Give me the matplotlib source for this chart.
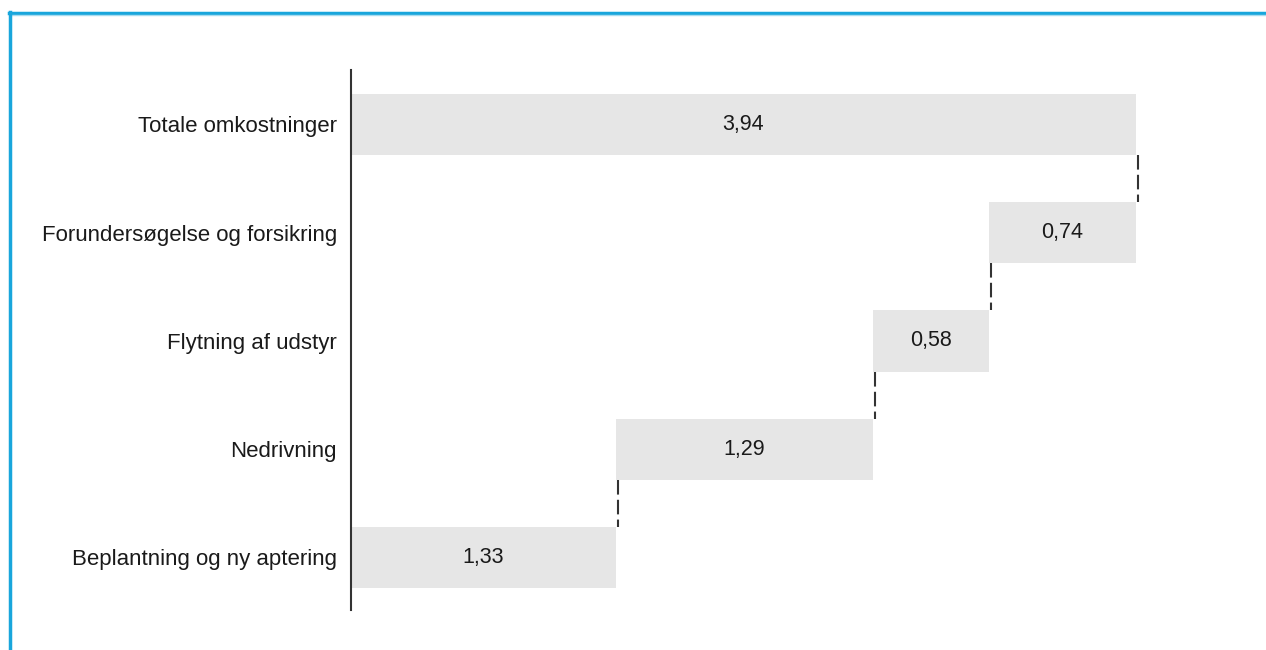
import matplotlib.pyplot as plt
from matplotlib.lines import Line2D

plt.rcParams['font.family'] = ['Liberation Sans', 'DejaVu Sans']

categories = [
    "Totale omkostninger",
    "Forundersøgelse og forsikring",
    "Flytning af udstyr",
    "Nedrivning",
    "Beplantning og ny aptering",
]
steps = [0.74, 0.58, 1.29, 1.33]  # components, top to bottom below the total
total = 3.94
labels = ["3,94", "0,74", "0,58", "1,29", "1,33"]

W, H = 1266, 650
fig = plt.figure(figsize=(W / 100, H / 100), dpi=100)

# axes span from the baseline to the end of the total bar
x0, x1 = 351, 1136
y_top, y_bot = 70, 610
ax = fig.add_axes([x0 / W, 1 - y_bot / H, (x1 - x0) / W, (y_bot - y_top) / H])

bar_color = "#e6e6e6"
height = 0.564

# waterfall: components stack from the bottom upward, total spans everything
lefts = [0.0]
widths = [total]
cum = total
for v in steps:
    cum -= v
    lefts.append(cum)
    widths.append(v)

ypos = list(range(len(categories)))
ax.barh(ypos, widths, left=lefts, height=height, color=bar_color, zorder=2)

for y, l, w, t in zip(ypos, lefts, widths, labels):
    ax.text(l + w / 2, y, t, ha="center", va="center", fontsize=15.5, color="#1a1a1a", zorder=3)

# dashed connectors between consecutive bars
for i in range(len(categories) - 1):
    xc = lefts[i] if i > 0 else total
    ax.plot([xc + 0.012, xc + 0.012], [i + height / 2, i + 1 - height / 2],
            color="#333333", lw=1.5, ls=(0, (7, 2.5)), clip_on=False, zorder=3)

ax.set_xlim(0, total)
ax.set_ylim(4.485, -0.503)
ax.set_yticks(ypos)
ax.set_yticklabels(categories, fontsize=16, color="#1a1a1a")
ax.tick_params(axis="y", length=0, pad=10)
ax.set_xticks([])
for s in ["top", "right", "bottom"]:
    ax.spines[s].set_visible(False)
ax.spines["left"].set_color("#333333")
ax.spines["left"].set_linewidth(1.5)

# blue frame around the figure box
blue = "#19a6dc"
fig.add_artist(Line2D([9 / W, 1], [1 - 12.5 / H, 1 - 12.5 / H], color=blue, lw=2.5,
                      transform=fig.transFigure))
fig.add_artist(Line2D([11 / W, 1], [1 - 15 / H, 1 - 15 / H], color="#a8dcf0", lw=1.0,
                      transform=fig.transFigure))
fig.add_artist(Line2D([9.5 / W, 9.5 / W], [0, 1 - 11.5 / H], color=blue, lw=2.5,
                      transform=fig.transFigure))

fig.savefig("out.png", dpi=100)
